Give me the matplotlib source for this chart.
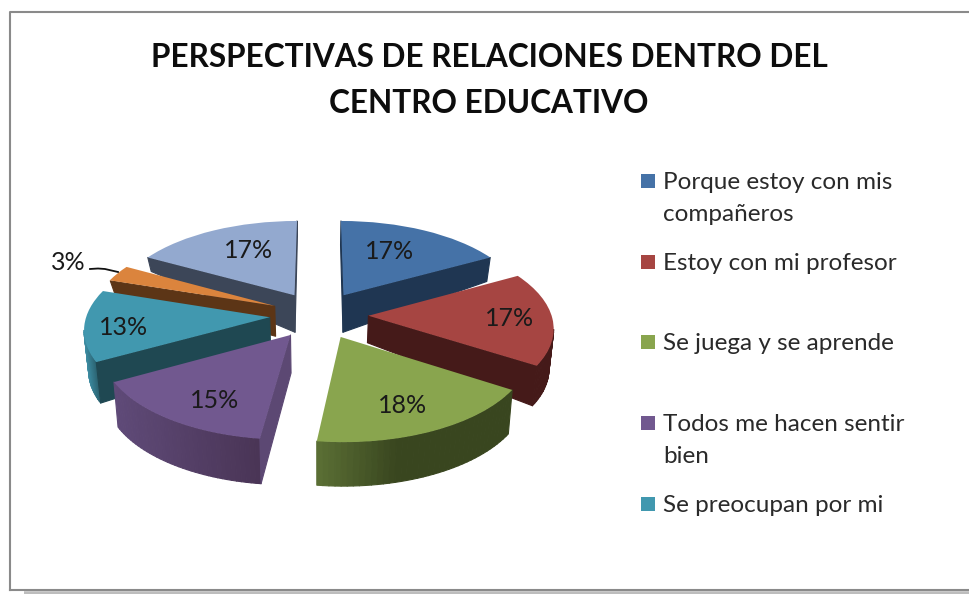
import numpy as np
import matplotlib
matplotlib.use('Agg')
import matplotlib.pyplot as plt
import matplotlib.transforms as mtransforms
from matplotlib.collections import PolyCollection
from matplotlib.colors import to_rgb

title = 'PERSPECTIVAS DE RELACIONES DENTRO DEL\nCENTRO EDUCATIVO'
values = [17, 17, 18, 15, 13, 3, 17]
legend_labels = ['Porque estoy con mis\ncompañeros', 'Estoy con mi profesor', 'Se juega y se aprende',
                 'Todos me hacen sentir\nbien', 'Se preocupan por mi']

top_colors = ['#4572a7', '#a64542', '#89a54e', '#71588f', '#4198af', '#db843d', '#93a9cf']
cut_colors = ['#1f3652', '#451a19', '#3a4720', '#5c4873', '#1f4852', '#5c3516', '#3c4658']
arc_left = ['#1f3652', '#451a19', '#5a6e34', '#5f4a78', '#3f90a6', '#5c3516', '#3c4658']
arc_right = ['#1f3652', '#451a19', '#39461f', '#493455', '#1f4852', '#5c3516', '#3c4658']
depth_apex = [37, 27, 38, 38, 32, 30, 37]
depth_arc = [24, 40, 44, 45, 41, 12, 14]
draw_order = [6, 0, 5, 4, 1, 3, 2]
label_dist = [0.72, 0.72, 0.62, 0.62, 0.72, 1.0, 0.72]
label_shift = [(-13, 4), (9, 1), (7, 13), (-4, 15), (-13, 4), (0, 0), (13, 3)]

# perspective squash of the unit pie, to pixel coords
cx, cy = 319, 315
A, B, k = 87.3, 183.0, 0.117


class Persp(mtransforms.Transform):
    input_dims = 2
    output_dims = 2

    def transform_non_affine(self, xy):
        xy = np.asarray(xy, float)
        w = 1 + k * xy[:, 1]
        return np.column_stack((cx + B * xy[:, 0] / w, cy - A * xy[:, 1] / w))


def lower(p, r, i):
    d = depth_apex[i] + (depth_arc[i] - depth_apex[i]) * r
    return np.array([cx + (p[0] - cx) * 0.98, p[1] + d])


plt.rcParams['font.family'] = ['Lato', 'DejaVu Sans']
fig = plt.figure(figsize=(9.69, 5.94), dpi=100)
ax = fig.add_axes([0, 0, 1, 1])
persp = Persp()

wedges, texts, autotexts = ax.pie(values, explode=[0.27] * len(values), startangle=90, counterclock=False,
                                  colors=top_colors, autopct=lambda p: '%.0f%%' % p)
ax.set_aspect('auto')
ax.set_xlim(0, 969)
ax.set_ylim(594, 0)
ax.axis('off')

for n, i in enumerate(draw_order):
    w = wedges[i]
    th = np.radians(np.linspace(w.theta1, w.theta2, 40))
    cen = np.array(w.center)
    arc = persp.transform(np.column_stack((cen[0] + w.r * np.cos(th), cen[1] + w.r * np.sin(th))))
    apex = persp.transform(np.array([cen]))[0]

    # only the edges that face the viewer get a side
    outline = [apex] + list(arc) + [apex]
    radial = [0] + [1] * len(arc) + [0]
    quads = []
    cols = []
    xmin, xmax = arc[:, 0].min(), arc[:, 0].max()
    c1, c2 = np.array(to_rgb(arc_left[i])), np.array(to_rgb(arc_right[i]))
    for j in range(len(outline) - 1):
        p, q = outline[j], outline[j + 1]
        if q[0] - p[0] <= 0:
            continue
        quads.append([p, q, lower(q, radial[j + 1], i), lower(p, radial[j], i)])
        if radial[j] == 1 and radial[j + 1] == 1:
            f = (p[0] - xmin) / (xmax - xmin)
            if i == 2:
                f = min(1, f / 0.4)
            cols.append(c1 + (c2 - c1) * f)
        else:
            cols.append(to_rgb(cut_colors[i]))
    ax.add_collection(PolyCollection(quads, facecolors=cols, edgecolors=cols, linewidths=0.8, joinstyle='round',
                                     zorder=2 + 2 * n), autolim=False)
    w.set_transform(persp + ax.transData)
    w.set_zorder(3 + 2 * n)

    mid = np.radians((w.theta1 + w.theta2) / 2)
    lab = persp.transform(np.array([[cen[0] + label_dist[i] * np.cos(mid), cen[1] + label_dist[i] * np.sin(mid)]]))[0]
    autotexts[i].set_position((lab[0] + label_shift[i][0], lab[1] + label_shift[i][1]))
    autotexts[i].set_fontsize(18)
    autotexts[i].set_color('#1a1a1a')
    autotexts[i].set_zorder(30)

autotexts[5].set_position((68, 263))
ax.plot([90, 98, 105, 118], [269, 268.5, 269, 272], color='#111111', lw=1.3, zorder=30)

ax.text(489, 80.5, title, ha='center', va='center', fontsize=22.7, fontweight='bold', color='#0d0d0d',
        linespacing=1.7)

for i, lab in enumerate(legend_labels):
    y = 181 + i * 80.7
    ax.scatter([648], [y], marker='s', s=98, color=top_colors[i], linewidths=0, zorder=5)
    ax.text(663, y - 9, lab, ha='left', va='top', fontsize=17.5, color='#2a2a2a', linespacing=1.62)

# chart frame
ax.plot([10, 10, 969], [590, 12, 12], color='#8a8a8a', lw=1.5, zorder=1)
ax.plot([10, 969], [590, 590], color='#8a8a8a', lw=1.5, zorder=1)
ax.plot([24, 969], [592.6, 592.6], color='#bdbdbd', lw=2.6, solid_capstyle='butt', zorder=1)

fig.savefig('out.png', dpi=100)
